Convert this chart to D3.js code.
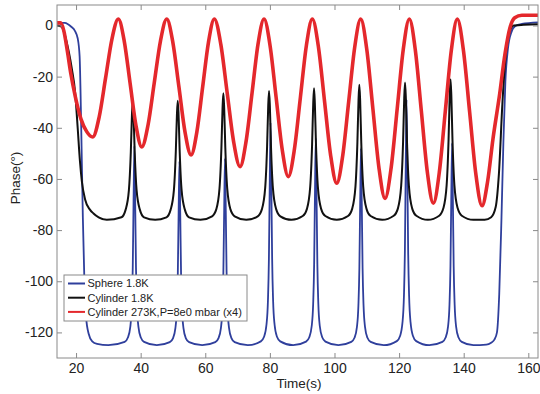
<!DOCTYPE html>
<html>
<head>
<meta charset="utf-8">
<script src="https://cdn.jsdelivr.net/npm/d3@7"></script>
<style>
  body { margin: 0; background: #fff; }
  svg { display: block; font-family: "Liberation Sans", Arial, sans-serif; }
</style>
</head>
<body>
<svg width="540" height="394"></svg>
<script>
// [time (s), phase (deg)]
const sphere = [
  [14.1,1],[16.5,1],[17.5,0.5],[18.5,-0.5],[19.6,-2],[20.5,-5],[21.1,-12],[21.6,-40],[22.1,-75],[22.6,-101],[23.1,-114],[23.9,-120.5],[25.0,-123.5],[26.5,-124.5],[30,-125],
  [35.05,-123.7],[36.05,-122],[36.8,-117.7],[37.25,-109.4],[37.55,-94.6],[37.8,-68.8],[38.05,-47],[38.3,-68.8],[38.55,-94.6],[38.85,-109.4],[39.3,-117.7],[40.05,-122],[41.05,-123.7],[45.0,-125],
  [49.0,-123.8],[50.0,-122.3],[50.75,-118.3],[51.2,-110.6],[51.5,-96.9],[51.75,-73.2],[52.0,-53],[52.25,-73.2],[52.5,-96.9],[52.8,-110.6],[53.25,-118.3],[54.0,-122.3],[55.0,-123.8],[59.05,-125],
  [63.1,-123.8],[64.1,-122.2],[64.85,-118.2],[65.3,-110.4],[65.6,-96.5],[65.85,-72.4],[66.1,-52],[66.35,-72.4],[66.6,-96.5],[66.9,-110.4],[67.35,-118.2],[68.1,-122.2],[69.1,-123.8],[73.15,-125],
  [77.2,-123.5],[78.2,-121.7],[78.95,-116.9],[79.4,-107.6],[79.7,-91.1],[79.95,-62.4],[80.2,-38],[80.45,-62.4],[80.7,-91.1],[81.0,-107.6],[81.45,-116.9],[82.2,-121.7],[83.2,-123.5],[87.2,-125],
  [91.2,-123.6],[92.2,-121.9],[92.95,-117.5],[93.4,-108.8],[93.7,-93.4],[93.95,-66.7],[94.2,-44],[94.45,-66.7],[94.7,-93.4],[95.0,-108.8],[95.45,-117.5],[96.2,-121.9],[97.2,-123.6],[101.2,-125],
  [105.2,-123.7],[106.2,-122.1],[106.95,-117.8],[107.4,-109.6],[107.7,-95],[107.95,-69.6],[108.2,-48],[108.45,-69.6],[108.7,-95],[109.0,-109.6],[109.45,-117.8],[110.2,-122.1],[111.2,-123.7],[115.25,-125],
  [119.3,-123.4],[120.3,-121.4],[121.05,-116.1],[121.5,-105.8],[121.8,-87.6],[122.05,-55.9],[122.3,-29],[122.55,-55.9],[122.8,-87.6],[123.1,-105.8],[123.55,-116.1],[124.3,-121.4],[125.3,-123.4],[129.35,-125],
  [133.4,-123.7],[134.4,-122],[135.15,-117.7],[135.6,-109.2],[135.9,-94.2],[136.15,-68.1],[136.4,-46],[136.65,-68.1],[136.9,-94.2],[137.2,-109.2],[137.65,-117.7],[138.4,-122],[139.4,-123.7],[143,-125],[147,-124.8],
  [148.5,-124],[149.5,-122.8],[150.3,-120],[151,-105],[151.7,-75],[152.3,-45],[152.9,-22],[153.7,-9],[154.8,-2.5],[156,-0.2],[158,0.6],[163,1.2]
];

const cylinder = [
  [14.1,0],[15.5,-0.5],[16.6,-4],[17.7,-10],[18.7,-17],[19.7,-26],[20.5,-40],[21.2,-53],[21.8,-61],[22.8,-68],[24.3,-72],[25.4,-73.5],[27,-75],[29.5,-76],
  [34.05,-75],[35.35,-72],[36.35,-64.5],[36.95,-49.5],[37.3,-35],[37.55,-29.7],[37.8,-35],[38.15,-49.5],[38.75,-64.5],[39.75,-72],[41.05,-75],[44.5,-76],
  [47.98,-75],[49.28,-72],[50.28,-64.5],[50.88,-49.3],[51.23,-34.7],[51.48,-29.4],[51.73,-34.7],[52.08,-49.3],[52.68,-64.5],[53.68,-72],[54.98,-75],[58.5,-76],
  [62.1,-74.6],[63.4,-71.9],[64.4,-63.8],[65.0,-47.7],[65.35,-32.2],[65.6,-26.5],[65.85,-32.2],[66.2,-47.7],[66.8,-63.8],[67.8,-71.9],[69.1,-74.6],[72.7,-76],
  [76.24,-74.6],[77.54,-71.8],[78.54,-63.6],[79.14,-47.2],[79.49,-31.3],[79.74,-25.6],[79.99,-31.3],[80.34,-47.2],[80.94,-63.6],[81.94,-71.8],[83.24,-74.6],[86.7,-76],
  [90.17,-74.5],[91.47,-71.7],[92.47,-63.3],[93.07,-46.5],[93.42,-30.4],[93.67,-24.5],[93.92,-30.4],[94.27,-46.5],[94.87,-63.3],[95.87,-71.7],[97.17,-74.5],[100.7,-76],
  [104.19,-74.5],[105.49,-71.6],[106.49,-63],[107.09,-45.8],[107.44,-29.2],[107.69,-23.2],[107.94,-29.2],[108.29,-45.8],[108.89,-63],[109.89,-71.6],[111.19,-74.5],[114.8,-76],
  [118.34,-74.4],[119.64,-71.5],[120.64,-62.7],[121.24,-45.3],[121.59,-28.4],[121.84,-22.3],[122.09,-28.4],[122.44,-45.3],[123.04,-62.7],[124.04,-71.5],[125.34,-74.4],[128.9,-76],
  [132.42,-74.4],[133.72,-71.4],[134.72,-62.4],[135.32,-44.5],[135.67,-27.3],[135.92,-21],[136.17,-27.3],[136.52,-44.5],[137.12,-62.4],[138.12,-71.4],[139.42,-74.4],[143,-76],[146.5,-76],
  [148.5,-75],[149.9,-71],[150.9,-58],[152,-30],[153,-12],[154.1,-3],[155.5,0],[163,0.5]
];

const cylinderWarm = [
  [14.1,1],[15.2,1],[16.2,-2],[17.3,-10],[18.4,-19],[19.8,-28],[21.5,-36.5],[23.3,-41.5],[25.17,-43.6],
  [27.15,-35.8],[29.13,-20.6],[31.11,-5.3],[33.09,2.5],
  [34.9,-6],[36.72,-22.5],[38.53,-39],[40.34,-47.5],
  [42.27,-39],[44.2,-22.5],[46.14,-6],[48.07,2.5],
  [49.95,-6.5],[51.84,-24],[53.72,-41.6],[55.6,-50.6],
  [57.4,-41.6],[59.2,-24],[61.0,-6.5],[62.81,2.5],
  [64.8,-7.3],[66.79,-26.4],[68.77,-45.4],[70.76,-55.2],
  [72.62,-45.4],[74.48,-26.4],[76.33,-7.3],[78.19,2.5],
  [80.07,-8],[81.95,-28.3],[83.83,-48.6],[85.71,-59.1],
  [87.57,-48.6],[89.43,-28.3],[91.28,-8],[93.14,2.5],
  [95.03,-8.4],[96.92,-29.6],[98.81,-50.8],[100.7,-61.7],
  [102.56,-50.8],[104.41,-29.6],[106.27,-8.4],[108.12,2.5],
  [110.0,-9.4],[111.89,-32.6],[113.77,-55.7],[115.65,-67.6],
  [117.53,-55.7],[119.41,-32.6],[121.29,-9.4],[123.17,2.5],
  [125.03,-9.7],[126.89,-33.5],[128.74,-57.3],[130.6,-69.5],
  [132.46,-57.3],[134.31,-33.5],[136.17,-9.7],[138.02,2.5],
  [139.93,-9.9],[141.85,-34],[143.76,-58.1],[145.67,-70.5],
  [147.4,-61],[149.1,-44],[151,-28],[152.8,-11],[154.3,-1],[155.8,3],[158,4],[163,4]
];

const xTicks = [20, 40, 60, 80, 100, 120, 140, 160];
const yTicks = [-120, -100, -80, -60, -40, -20, 0];
const seriesNames = ["Sphere 1.8K", "Cylinder 1.8K", "Cylinder 273K,P=8e0 mbar (x4)"];

const series = [
  { name: seriesNames[0], data: sphere, color: "#2f3f9c", width: 1.8 },
  { name: seriesNames[1], data: cylinder, color: "#111111", width: 2 },
  { name: seriesNames[2], data: cylinderWarm, color: "#e4282c", width: 3.6 }
];

const plot = { left: 57, right: 538, top: 5, bottom: 358 };
const axisColor = "#8a8a8a";

const x = d3.scaleLinear().domain([14.1, 163]).range([plot.left, plot.right]);
const y = d3.scaleLinear().domain([-130, 8]).range([plot.bottom, plot.top]);

const svg = d3.select("svg");

svg.append("defs").append("clipPath")
  .attr("id", "clip")
  .append("rect")
  .attr("x", plot.left)
  .attr("y", plot.top)
  .attr("width", plot.right - plot.left)
  .attr("height", plot.bottom - plot.top);

const line = d3.line()
  .x(d => x(d[0]))
  .y(d => y(d[1]))
  .curve(d3.curveMonotoneX);

const lines = svg.append("g").attr("clip-path", "url(#clip)");

lines.selectAll("path")
  .data(series)
  .join("path")
  .attr("fill", "none")
  .attr("stroke", d => d.color)
  .attr("stroke-width", d => d.width)
  .attr("stroke-linejoin", "round")
  .attr("d", d => line(d.data));

// axes: MATLAB style box with inward ticks
const fmt = d => String(d);

const styleAxis = g => {
  g.select(".domain").remove();
  g.selectAll(".tick line").attr("stroke", axisColor);
  g.selectAll(".tick text").attr("fill", "#222").attr("font-size", 14);
};

svg.append("g")
  .attr("transform", `translate(0,${plot.bottom})`)
  .call(d3.axisBottom(x).tickValues(xTicks).tickFormat(fmt).tickSizeInner(-5).tickSizeOuter(0).tickPadding(5))
  .call(styleAxis);

svg.append("g")
  .attr("transform", `translate(0,${plot.top})`)
  .call(d3.axisTop(x).tickValues(xTicks).tickFormat("").tickSizeInner(-5).tickSizeOuter(0))
  .call(styleAxis);

svg.append("g")
  .attr("transform", `translate(${plot.left},0)`)
  .call(d3.axisLeft(y).tickValues(yTicks).tickFormat(fmt).tickSizeInner(-5).tickSizeOuter(0).tickPadding(4))
  .call(styleAxis);

svg.append("g")
  .attr("transform", `translate(${plot.right},0)`)
  .call(d3.axisRight(y).tickValues(yTicks).tickFormat("").tickSizeInner(-5).tickSizeOuter(0))
  .call(styleAxis);

svg.append("rect")
  .attr("x", plot.left)
  .attr("y", plot.top)
  .attr("width", plot.right - plot.left)
  .attr("height", plot.bottom - plot.top)
  .attr("fill", "none")
  .attr("stroke", axisColor)
  .attr("stroke-width", 1);

svg.append("text")
  .attr("x", 299)
  .attr("y", 388)
  .attr("text-anchor", "middle")
  .attr("font-size", 13.5)
  .attr("fill", "#222")
  .text("Time(s)");

svg.append("text")
  .attr("transform", `translate(20,178) rotate(-90)`)
  .attr("text-anchor", "middle")
  .attr("font-size", 13.5)
  .attr("fill", "#222")
  .text("Phase(°)");

// legend
const legend = svg.append("g").attr("transform", "translate(64,275)");

legend.append("rect")
  .attr("width", 183)
  .attr("height", 46)
  .attr("fill", "#fff")
  .attr("stroke", axisColor);

const item = legend.selectAll(".item")
  .data(series)
  .join("g")
  .attr("class", "item")
  .attr("transform", (d, i) => `translate(0,${8.5 + i * 14.2})`);

item.append("line")
  .attr("x1", 4)
  .attr("x2", 21)
  .attr("stroke", d => d.color)
  .attr("stroke-width", 2);

item.append("text")
  .attr("x", 23.5)
  .attr("dy", "0.35em")
  .attr("font-size", 11)
  .attr("fill", "#222")
  .text(d => d.name);
</script>
</body>
</html>
